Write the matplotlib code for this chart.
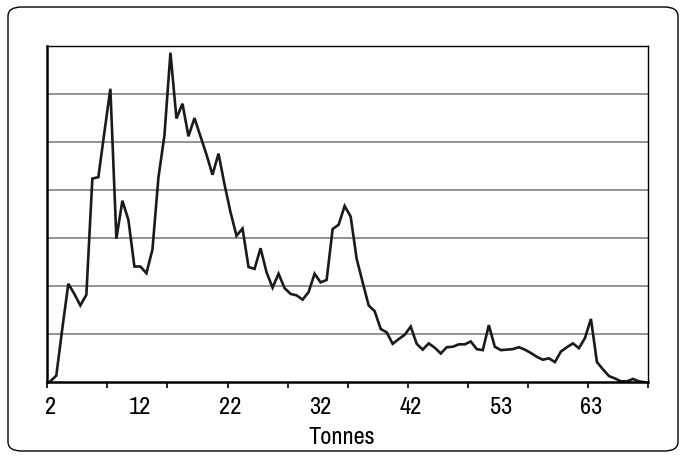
import matplotlib
matplotlib.use('Agg')
import numpy as np
import matplotlib.pyplot as plt
from matplotlib.patches import FancyBboxPatch

# tonnage distribution, one value per category (gridline = 1 unit)
counts = [0.02, 0.14, 1.12, 2.05, 1.84, 1.60, 1.82, 4.24, 4.27, 5.20,
          6.11, 2.99, 3.78, 3.38, 2.41, 2.41, 2.27, 2.76, 4.26, 5.14,
          6.86, 5.49, 5.80, 5.12, 5.50, 5.12, 4.74, 4.32, 4.76, 4.12,
          3.54, 3.05, 3.20, 2.40, 2.36, 2.79, 2.29, 1.97, 2.26, 1.96,
          1.84, 1.81, 1.72, 1.88, 2.26, 2.08, 2.13, 3.19, 3.28, 3.67,
          3.45, 2.57, 2.08, 1.60, 1.48, 1.11, 1.04, 0.80, 0.90, 0.99,
          1.16, 0.80, 0.68, 0.81, 0.72, 0.60, 0.73, 0.74, 0.79, 0.79,
          0.85, 0.69, 0.67, 1.19, 0.74, 0.67, 0.68, 0.69, 0.73, 0.68,
          0.61, 0.53, 0.47, 0.50, 0.42, 0.64, 0.73, 0.81, 0.71, 0.92,
          1.32, 0.42, 0.27, 0.13, 0.08, 0.02, 0.02, 0.07, 0.02, 0.0]
tick_labels = ['2', '12', '22', '32', '42', '53', '63']

plt.rcParams['font.family'] = ['Archivo Narrow', 'Liberation Sans', 'DejaVu Sans']

fig = plt.figure(figsize=(6.86, 4.6), dpi=100)
fig.patch.set_facecolor('white')

# rounded outer frame
box = FancyBboxPatch((8/686, 8/460), 670/686, 444/460,
                     boxstyle='round,pad=0,rounding_size=0.02',
                     transform=fig.transFigure, fill=False,
                     edgecolor='black', lw=1.0)
fig.patches.append(box)

ax = fig.add_axes([47.3/686, 1-383.3/460, 600.7/686, 336.3/460])

x = np.arange(len(counts))
ax.plot(x, counts, color='#1a1a1a', lw=1.9, solid_joinstyle='miter')

ax.set_xlim(-0.5, len(counts)-0.5)
ax.set_ylim(0, 7)

for g in range(1, 7):
    ax.axhline(g, color='#808080', lw=1.2, zorder=0)

ax.set_yticks([])
ax.set_xticks(np.arange(-0.5, len(counts), 10))
ax.set_xticklabels([])
ax.tick_params(axis='x', which='major', direction='out', length=4, width=1.2, color='black')
ax.set_xticks(np.arange(0, len(counts), 15), minor=True)
ax.set_xticklabels(tick_labels, minor=True)
ax.tick_params(axis='x', which='minor', length=0, pad=10, labelsize=17.5)

for s in ['left', 'bottom']:
    ax.spines[s].set_linewidth(1.8)
for s in ['top', 'right']:
    ax.spines[s].set_linewidth(1.0)

fig.text(342/686, 1-438/460, 'Tonnes', ha='center', va='center', fontsize=17.5)

plt.savefig('out.png', dpi=100)
plt.close()
